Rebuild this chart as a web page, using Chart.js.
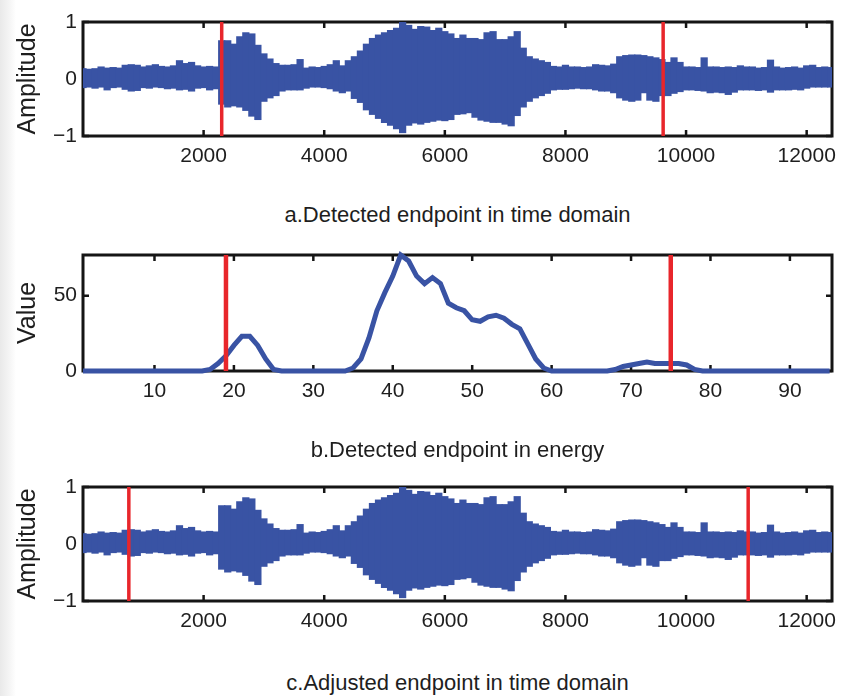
<!DOCTYPE html>
<html>
<head>
<meta charset="utf-8">
<script src="https://cdn.jsdelivr.net/npm/chart.js@4.4.0/dist/chart.umd.min.js"></script>
<style>
html,body{margin:0;padding:0;background:#fff;}
body{width:842px;height:696px;position:relative;overflow:hidden;font-family:"Liberation Sans",Arial,sans-serif;}
.edge{position:absolute;left:0;top:0;width:16px;height:696px;background:linear-gradient(to right,#e9e9e9,#f4f4f4 55%,#ffffff);}
canvas{position:absolute;left:0;}
.cap{position:absolute;left:83px;width:749px;text-align:center;font-size:22px;line-height:24px;color:#1e1e1e;}
</style>
</head>
<body>
<div class="edge"></div>
<canvas id="ca" width="842" height="190" style="top:0px"></canvas>
<canvas id="cb" width="842" height="190" style="top:230px"></canvas>
<canvas id="cc" width="842" height="190" style="top:460px"></canvas>
<div class="cap" style="top:203px">a.Detected endpoint in time domain</div>
<div class="cap" style="top:438px">b.Detected endpoint in energy</div>
<div class="cap" style="top:671px">c.Adjusted endpoint in time domain</div>
<script>
// ---- time-domain waveform envelope (every 100 samples) ----
const sampleIdx = [0,100,200,300,400,500,600,700,800,900,1000,1100,1200,1300,1400,1500,1600,1700,1800,1900,
2000,2100,2200,2300,2400,2500,2600,2700,2800,2900,3000,3100,3200,3300,3400,3500,3600,3700,3800,3900,
4000,4100,4200,4300,4400,4500,4600,4700,4800,4900,5000,5100,5200,5300,5400,5500,5600,5700,5800,5900,
6000,6100,6200,6300,6400,6500,6600,6700,6800,6900,7000,7100,7200,7300,7400,7500,7600,7700,7800,7900,
8000,8100,8200,8300,8400,8500,8600,8700,8800,8900,9000,9100,9200,9300,9400,9500,9600,9700,9800,9900,
10000,10100,10200,10300,10400,10500,10600,10700,10800,10900,11000,11100,11200,11300,11400,11500,11600,11700,11800,11900,
12000,12100,12200,12300,12400];
const upperEnv = [0.19,0.18,0.19,0.22,0.20,0.21,0.20,0.25,0.26,0.25,0.22,0.24,0.26,0.23,0.22,0.24,0.33,0.28,0.30,0.24,
0.22,0.23,0.22,0.68,0.68,0.62,0.75,0.82,0.80,0.60,0.45,0.36,0.28,0.25,0.25,0.26,0.35,0.20,0.22,0.21,
0.23,0.26,0.33,0.24,0.33,0.40,0.50,0.62,0.72,0.78,0.82,0.86,0.90,1.00,0.95,0.88,0.93,0.92,0.86,0.90,
0.84,0.80,0.72,0.78,0.72,0.72,0.70,0.82,0.84,0.70,0.70,0.75,0.84,0.55,0.40,0.36,0.33,0.30,0.23,0.22,
0.25,0.22,0.22,0.21,0.22,0.26,0.25,0.24,0.27,0.40,0.42,0.43,0.43,0.42,0.40,0.38,0.35,0.30,0.38,0.30,
0.22,0.22,0.21,0.38,0.22,0.22,0.21,0.22,0.21,0.24,0.22,0.22,0.20,0.21,0.34,0.22,0.20,0.21,0.22,0.20,
0.24,0.25,0.21,0.22,0.21];
const lowerEnv = [-0.16,-0.15,-0.17,-0.15,-0.20,-0.16,-0.15,-0.19,-0.22,-0.21,-0.16,-0.17,-0.15,-0.16,-0.18,-0.17,-0.20,-0.19,-0.22,-0.17,
-0.16,-0.20,-0.18,-0.45,-0.50,-0.48,-0.50,-0.56,-0.66,-0.72,-0.40,-0.34,-0.30,-0.22,-0.20,-0.20,-0.20,-0.17,-0.15,-0.15,
-0.16,-0.18,-0.22,-0.25,-0.22,-0.35,-0.42,-0.55,-0.63,-0.70,-0.77,-0.82,-0.88,-0.95,-0.82,-0.78,-0.80,-0.77,-0.75,-0.73,
-0.74,-0.72,-0.63,-0.62,-0.60,-0.68,-0.73,-0.75,-0.77,-0.77,-0.80,-0.83,-0.65,-0.50,-0.40,-0.34,-0.30,-0.26,-0.20,-0.19,
-0.19,-0.18,-0.17,-0.18,-0.18,-0.20,-0.22,-0.22,-0.25,-0.34,-0.38,-0.40,-0.38,-0.25,-0.38,-0.40,-0.30,-0.30,-0.26,-0.23,
-0.20,-0.20,-0.21,-0.22,-0.25,-0.24,-0.25,-0.28,-0.24,-0.20,-0.20,-0.20,-0.21,-0.20,-0.24,-0.20,-0.20,-0.20,-0.19,-0.20,
-0.17,-0.15,-0.15,-0.15,-0.15];

// ---- short-time energy per frame ----
const frameIdx = [1,2,3,4,5,6,7,8,9,10,11,12,13,14,15,16,17,18,19,20,21,22,23,24,25,26,27,28,29,30,
31,32,33,34,35,36,37,38,39,40,41,42,43,44,45,46,47,48,49,50,51,52,53,54,55,56,57,58,59,60,
61,62,63,64,65,66,67,68,69,70,71,72,73,74,75,76,77,78,79,80,81,82,83,84,85,86,87,88,89,90,
91,92,93,94,95];
const energyVals = [0,0,0,0,0,0,0,0,0,0,0,0,0,0,0,0,1,5,10,17,23,23,17,8,1,0,0,0,0,0,
0,0,0,0,2,8,22,40,52,63,77,73,63,58,62,58,45,42,40,34,33,36,37,35,31,28,18,8,2,0,
0,0,0,0,0,0,0,1,3,4,5,6,5,5,5,5,4,1,0,0,0,0,0,0,0,0,0,0,0,0,
0,0,0,0,0];

// ---- endpoints ----
const endpointsA = [2300, 9620];
const endpointsB = [19, 75];
const endpointsC = [760, 11030];

// ---- tick labels ----
const timeTicks = [2000,4000,6000,8000,10000,12000];
const ampTicks = [-1,0,1];
const frameTicks = [10,20,30,40,50,60,70,80,90];
const energyTicks = [0,50];

const BLUE = '#3953a4';
const RED = '#e8262b';
const TXT = '#1e1e1e';

const boxPlugin = {
  id: 'box',
  beforeDatasetsDraw(chart) {
    const {ctx, chartArea: a, scales} = chart;
    ctx.save();
    ctx.strokeStyle = '#151515';
    ctx.lineWidth = 2.5;
    const tl = 6;
    ctx.beginPath();
    scales.x.ticks.forEach(t => {
      const p = scales.x.getPixelForValue(t.value);
      ctx.moveTo(p, a.bottom); ctx.lineTo(p, a.bottom - tl);
      ctx.moveTo(p, a.top); ctx.lineTo(p, a.top + tl);
    });
    scales.y.ticks.forEach(t => {
      const p = scales.y.getPixelForValue(t.value);
      ctx.moveTo(a.left, p); ctx.lineTo(a.left + tl, p);
      ctx.moveTo(a.right, p); ctx.lineTo(a.right - tl, p);
    });
    ctx.stroke();
    ctx.lineWidth = 3;
    ctx.strokeRect(a.left, a.top, a.right - a.left, a.bottom - a.top);
    ctx.restore();
  }
};

function fmt(v) { return String(v).replace('-', '\u2212'); }

function makeOptions(o) {
  return {
    responsive: false,
    animation: false,
    events: [],
    layout: {padding: {top: o.padTop, right: 10, left: 0, bottom: 0}},
    plugins: {legend: {display: false}, tooltip: {enabled: false}},
    elements: {point: {radius: 0}},
    scales: {
      x: {
        type: 'linear', min: o.xmin, max: o.xmax, offset: false,
        grid: {display: false, drawTicks: false, offset: false},
        border: {display: false},
        afterBuildTicks: s => { s.ticks = o.xTicks.map(v => ({value: v})); },
        ticks: {font: {family: 'Liberation Sans', size: 21}, color: TXT, padding: 8,
                maxRotation: 0, autoSkip: false, callback: v => fmt(v)},
        afterFit: s => { s.height = o.xHeight; s.paddingLeft = 0; s.paddingRight = 0; }
      },
      y: {
        type: 'linear', min: o.ymin, max: o.ymax,
        grid: {display: false, drawTicks: false},
        border: {display: false},
        afterBuildTicks: s => { s.ticks = o.yTicks.map(v => ({value: v})); },
        ticks: {font: {family: 'Liberation Sans', size: 21}, color: TXT, padding: 6,
                autoSkip: false, callback: v => fmt(v)},
        title: {display: true, text: o.yTitle, color: TXT,
                font: {family: 'Liberation Sans', size: 25}, padding: {top: 13, bottom: 0}},
        afterFit: s => { s.width = 83; s.paddingTop = 0; s.paddingBottom = 0; }
      }
    }
  };
}

function markerSets(list, ymin, ymax, width) {
  return list.map(m => ({
    type: 'line',
    data: [{x: m, y: ymin}, {x: m, y: ymax}],
    borderColor: RED, borderWidth: width, pointRadius: 0, fill: false, order: -1
  }));
}

function waveChart(id, endpoints, padTop, xHeight) {
  const band = sampleIdx.map((x, i) => ({x: x, y: [lowerEnv[i], upperEnv[i]]}));
  return new Chart(document.getElementById(id), {
    type: 'bar',
    data: {
      datasets: [
        {type: 'bar', data: band, backgroundColor: BLUE, borderWidth: 0,
         barPercentage: 1.2, categoryPercentage: 1, grouped: false, order: 1}
      ].concat(markerSets(endpoints, -1, 1, 3.5))
    },
    options: makeOptions({padTop: padTop, xHeight: xHeight, xmin: 0, xmax: 12420, ymin: -1, ymax: 1,
                          xTicks: timeTicks, yTicks: ampTicks, yTitle: 'Amplitude'}),
    plugins: [boxPlugin]
  });
}

waveChart('ca', endpointsA, 22, 54);

new Chart(document.getElementById('cb'), {
  type: 'line',
  data: {
    datasets: [
      {data: frameIdx.map((x, i) => ({x: x, y: energyVals[i]})), borderColor: BLUE, borderWidth: 5,
       pointRadius: 0, fill: false, tension: 0, clip: 6, order: 1}
    ].concat(markerSets(endpointsB, 0, 77, 4.5))
  },
  options: makeOptions({padTop: 25, xHeight: 49, xmin: 1, xmax: 95.3, ymin: 0, ymax: 77,
                        xTicks: frameTicks, yTicks: energyTicks, yTitle: 'Value'}),
  plugins: [boxPlugin]
});

waveChart('cc', endpointsC, 27, 49);
</script>
</body>
</html>
